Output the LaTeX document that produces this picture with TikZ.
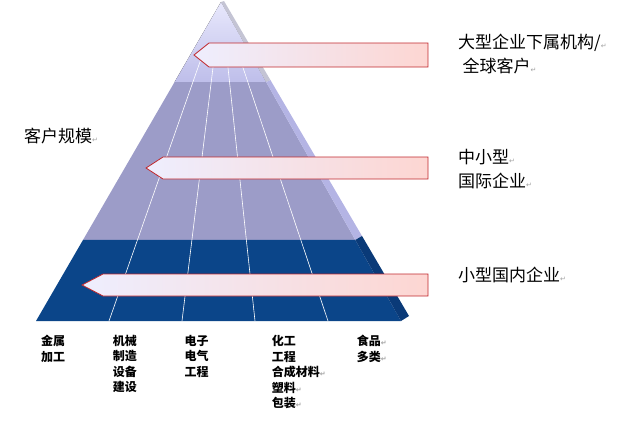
\documentclass[tikz,border=0pt]{standalone}
\usepackage{fontspec}
\newfontfamily\cjk{Noto Sans CJK SC}
\newfontfamily\symfont{DejaVu Sans}
\usepackage{tikz}
\usetikzlibrary{calc}
\definecolor{topA}{HTML}{E8E8FC}
\definecolor{topB}{HTML}{BEBEEA}
\definecolor{topside}{HTML}{C4C4D4}
\definecolor{midfront}{HTML}{9C9CC8}
\definecolor{midside}{HTML}{B4B4E4}
\definecolor{lowfront}{HTML}{0B4589}
\definecolor{lowside}{HTML}{0A3A78}
\definecolor{arrowleft}{HTML}{EEEEFE}
\definecolor{arrowright}{HTML}{FDD6D2}
\definecolor{arrowred}{HTML}{C0282C}
\definecolor{retgray}{HTML}{A0A0A0}
\newcommand{\retmark}{{\symfont\fontsize{7}{7}\selectfont\textcolor{retgray}{↵}}}

\begin{document}
\begin{tikzpicture}[x=1pt, y=-1pt,
bigarrow/.style={draw=arrowred, line width=0.8pt, left color=arrowleft, right color=arrowright},
divider/.style={white, line width=0.6pt},
tierlabel/.style={anchor=north west, inner sep=0pt, align=left, font=\cjk\fontsize{17}{24}\selectfont},
sector/.style={anchor=north west, inner sep=0pt, align=left, font=\cjk\bfseries\fontsize{12}{15.5}\selectfont}
  ]
  \useasboundingbox (0,0) rectangle (636,432);
  \coordinate (apex) at (221,2);
  \coordinate (bl) at (36,321);
  \coordinate (br) at (401,321);
  \coordinate (back) at (224,1);
  \coordinate (bbr) at (409,316);
  \coordinate (l1) at ($(apex)!0.251!(bl)$);
  \coordinate (r1) at ($(apex)!0.251!(br)$);
  \coordinate (s1) at ($(back)!0.251!(bbr)$);
  \coordinate (l2) at ($(apex)!0.746!(bl)$);
  \coordinate (r2) at ($(apex)!0.746!(br)$);
  \coordinate (s2) at ($(back)!0.746!(bbr)$);

  \fill[top color=topA, bottom color=topB] (apex) -- (l1) -- (r1) -- cycle;
  \fill[topside] (apex) -- (back) -- (s1) -- (r1) -- cycle;
  \fill[midfront] (l1) -- (l2) -- (r2) -- (r1) -- cycle;
  \fill[midside] (r1) -- (s1) -- (s2) -- (r2) -- cycle;
  \fill[lowfront] (l2) -- (bl) -- (br) -- (r2) -- cycle;
  \fill[lowside] (r2) -- (s2) -- (bbr) -- (br) -- cycle;
  \foreach \k in {1,...,4} {
    \coordinate (b\k) at ($(bl)!\k/5!(br)$);
    \draw[divider] ($(apex)!0.15!(b\k)$) -- (b\k);
  }

  \draw[bigarrow] (428,43) -- (209,43) -- (194,55) -- (209,67) -- (428,67) -- cycle;
  \draw[bigarrow] (428,157) -- (163,157) -- (146,168) -- (163,179) -- (428,179) -- cycle;
  \draw[bigarrow] (428,274) -- (103,274) -- (82,285) -- (103,296) -- (428,296) -- cycle;

  \node[tierlabel] (big) at (458,34) {大型企业下属机构/\retmark\\\hspace{4.5pt}全球客户\retmark};
  \node[tierlabel] (mid) at (458,149) {中小型\retmark\\国际企业\retmark};
  \node[tierlabel] (small) at (458,267) {小型国内企业\retmark};
  \node[tierlabel] (scale) at (24,128) {客户规模\retmark};

  \node[sector] (metal) at (41,335) {金属\\加工};
  \node[sector] (machine) at (112.7,335) {机械\\制造\\设备\\建设};
  \node[sector] (electric) at (184.3,335) {电子\\电气\\工程};
  \node[sector] (chemical) at (271.7,335) {化工\\工程\\合成材料\retmark\\塑料\retmark\\包装\retmark};
  \node[sector] (food) at (356.7,335) {食品\retmark\\多类\retmark};
\end{tikzpicture}
\end{document}
